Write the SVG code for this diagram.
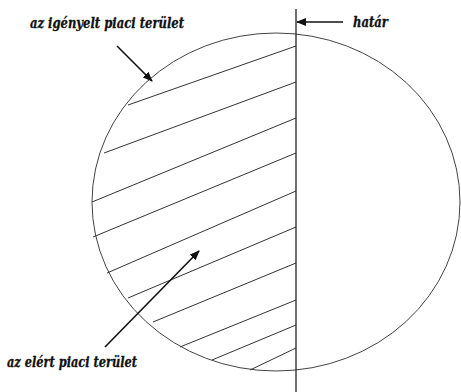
<svg xmlns="http://www.w3.org/2000/svg" width="461" height="392" viewBox="0 0 461 392">
<style>
.lbl{font-family:"DejaVu Serif","Liberation Serif",serif;font-weight:bold;font-style:italic;font-size:14px;fill:#111;stroke:#111;stroke-width:0.3}
.hatch{stroke:#333;stroke-width:1;fill:none}
.arr{stroke:#111;stroke-width:1.6;fill:none;marker-end:url(#ah)}
</style>
<defs>
<marker id="ah" markerWidth="10" markerHeight="8" refX="9" refY="4" orient="auto" markerUnits="userSpaceOnUse">
<path d="M0,0 L10,4 L0,8 Z" fill="#111"/>
</marker>
</defs>
<rect width="461" height="392" fill="#fff"/>
<g id="circle">
<ellipse cx="276" cy="202" rx="184" ry="169" fill="none" stroke="#444" stroke-width="1"/>
</g>
<g id="hatching">
<line class="hatch" x1="128" y1="105" x2="296" y2="46"/>
<line class="hatch" x1="104" y1="153" x2="296" y2="82"/>
<line class="hatch" x1="92" y1="202" x2="296" y2="118"/>
<line class="hatch" x1="93" y1="237" x2="296" y2="153"/>
<line class="hatch" x1="107" y1="273" x2="296" y2="191"/>
<line class="hatch" x1="128" y1="298" x2="296" y2="227"/>
<line class="hatch" x1="153" y1="322" x2="296" y2="263"/>
<line class="hatch" x1="180" y1="347" x2="296" y2="300"/>
<line class="hatch" x1="212" y1="360" x2="296" y2="325"/>
<line class="hatch" x1="250" y1="370" x2="296" y2="348"/>
</g>
<g id="border">
<line x1="296" y1="9" x2="296" y2="392" stroke="#222" stroke-width="1.3"/>
</g>
<g id="connectors">
<line class="arr" x1="117" y1="46" x2="152" y2="81"/>
<line class="arr" x1="105" y1="347" x2="199" y2="251"/>
<line class="arr" x1="343" y1="22" x2="297" y2="22"/>
</g>
<g id="label-igenyelt">
<text class="lbl" x="30" y="28" textLength="154" lengthAdjust="spacingAndGlyphs">az igényelt piaci terület</text>
</g>
<g id="label-hatar">
<text class="lbl" x="353" y="27" textLength="35" lengthAdjust="spacingAndGlyphs">határ</text>
</g>
<g id="label-elert">
<text class="lbl" x="7" y="367" textLength="130" lengthAdjust="spacingAndGlyphs">az elért piaci terület</text>
</g>
</svg>
